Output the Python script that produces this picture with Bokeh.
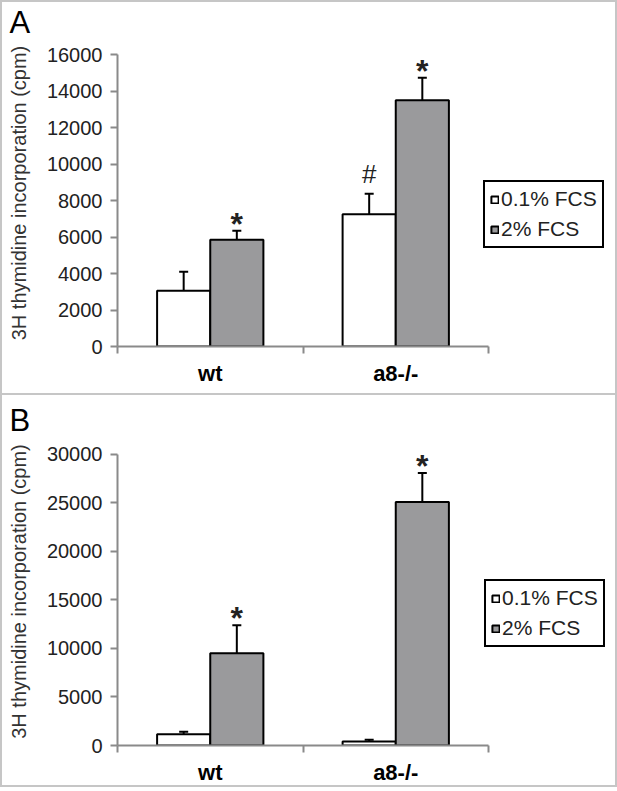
import numpy as np
from bokeh.plotting import figure
from bokeh.models import (ColumnDataSource, Range1d, FixedTicker, LinearAxis,
                          Whisker, TeeHead, Legend, LegendItem)
from bokeh.layouts import column
from bokeh.embed import file_html
from bokeh.resources import INLINE
from bokeh.core.properties import value

# ---------------- data ----------------
categories = ["wt", "a8-/-"]
series_names = ["0.1% FCS", "2% FCS"]

a_low = [3050, 7250]
a_low_err = [1040, 1120]
a_high = [5850, 13500]
a_high_err = [490, 1220]
a_low_marks = ["", "#"]
a_high_marks = ["*", "*"]
a_yticks = [0, 2000, 4000, 6000, 8000, 10000, 12000, 14000, 16000]

b_low = [1150, 400]
b_low_err = [280, 180]
b_high = [9500, 25100]
b_high_err = [2900, 3000]
b_low_marks = ["", ""]
b_high_marks = ["*", "*"]
b_yticks = [0, 5000, 10000, 15000, 20000, 25000, 30000]

# ---------------- style ----------------
FONT = "Liberation Sans"
BORDER = 2
W = 617 - 2 * BORDER
LEFT = 115
CAT_PX = 185.5
AXIS_PX = 292
BAR_W = 0.2865
AXIS_COLOR = "#8a8a8a"
FRAME_COLOR = "#c6c6c6"
GRAY = "#9a9a9c"


def make_panel(letter, low, low_err, high, high_err, low_marks, high_marks,
               yticks, height, border_top, border_bottom, legend_loc):
    frame_w = W - LEFT
    frame_h = height - border_top - border_bottom
    ymax = yticks[-1]
    p = figure(width=W, height=height,
               x_range=Range1d(0, frame_w / CAT_PX),
               y_range=Range1d(0, ymax * frame_h / AXIS_PX),
               output_backend="svg", toolbar_location=None,
               min_border_left=LEFT, min_border_right=0,
               min_border_top=border_top, min_border_bottom=border_bottom,
               x_axis_type=None, y_axis_type=None)
    p.outline_line_color = None
    p.background_fill_color = "white"
    p.border_fill_color = "white"

    p.title.text = letter
    p.title.text_font = FONT
    p.title.text_font_size = "31px"
    p.title.text_font_style = "normal"
    p.title.text_color = "black"
    p.title.align = "left"
    p.title.offset = -(LEFT - 7)
    p.title.standoff = 0

    idx = np.arange(len(categories)) + 0.5
    renderers = []
    mark_x, mark_y, mark_t = [], [], []
    for vals, errs, marks, fill, off in ((low, low_err, low_marks, "white", -BAR_W / 2),
                                          (high, high_err, high_marks, GRAY, BAR_W / 2)):
        vals = np.array(vals, dtype=float)
        errs = np.array(errs, dtype=float)
        src = ColumnDataSource(dict(x=idx + off, top=vals, upper=vals + errs))
        r = p.vbar(x="x", top="top", bottom=0, width=BAR_W, source=src,
                   fill_color=fill, line_color="black", line_width=2)
        renderers.append(r)
        wh = Whisker(base="x", lower="top", upper="upper", source=src,
                     line_color="black", line_width=2,
                     upper_head=TeeHead(size=9, line_color="black", line_width=2),
                     lower_head=None)
        p.add_layout(wh)
        for xx, yy, m in zip(idx + off, vals + errs, marks):
            if m:
                mark_x.append(xx)
                mark_y.append(yy)
                mark_t.append(m)

    def pick(sym):
        sel = [i for i, t in enumerate(mark_t) if t == sym]
        return dict(x=[mark_x[i] for i in sel], y=[mark_y[i] for i in sel],
                    t=[sym] * len(sel))

    p.text(x="x", y="y", text="t", source=ColumnDataSource(pick("*")),
           text_font=value(FONT), text_font_size="32px", text_font_style="bold",
           text_align="center", text_baseline="middle", y_offset=-7,
           text_color="#222222")
    hashes = pick("#")
    if hashes["x"]:
        p.text(x="x", y="y", text="t", source=ColumnDataSource(hashes),
               text_font=value(FONT), text_font_size="26px",
               text_align="center", text_baseline="middle", y_offset=-20,
               text_color="#222222")

    # y axis
    yax = LinearAxis(ticker=FixedTicker(ticks=yticks), bounds=(0, ymax),
                     axis_label="3H thymidine incorporation (cpm)")
    yax.major_tick_out = 7
    yax.major_tick_in = 0
    yax.minor_tick_out = 0
    yax.minor_tick_in = 0
    yax.axis_line_color = AXIS_COLOR
    yax.axis_line_width = 2
    yax.major_tick_line_color = AXIS_COLOR
    yax.major_tick_line_width = 2
    yax.major_label_text_font = FONT
    yax.major_label_text_font_size = "20px"
    yax.major_label_text_color = "#222222"
    yax.major_label_standoff = 8
    yax.axis_label_text_font = FONT
    yax.axis_label_text_font_size = "20px"
    yax.axis_label_text_font_style = "normal"
    yax.axis_label_text_color = "#333333"
    yax.axis_label_standoff = 14
    p.add_layout(yax, "left")

    # x axis: labels at category centres, tick marks at category boundaries
    xax = LinearAxis(ticker=FixedTicker(ticks=list(idx),
                                        minor_ticks=list(range(len(categories) + 1))),
                     bounds=(0, len(categories)))
    xax.major_label_overrides = {float(v): c for v, c in zip(idx, categories)}
    xax.major_tick_out = 0
    xax.major_tick_in = 0
    xax.minor_tick_out = 7
    xax.minor_tick_in = 0
    xax.axis_line_color = AXIS_COLOR
    xax.axis_line_width = 2
    xax.minor_tick_line_color = AXIS_COLOR
    xax.minor_tick_line_width = 2
    xax.major_label_text_font = FONT
    xax.major_label_text_font_size = "22px"
    xax.major_label_text_font_style = "bold"
    xax.major_label_text_color = "black"
    xax.major_label_standoff = 7
    p.add_layout(xax, "below")

    legend = Legend(items=[LegendItem(label=n, renderers=[r])
                           for n, r in zip(series_names, renderers)],
                    location=legend_loc)
    legend.border_line_color = "black"
    legend.border_line_alpha = 1.0
    legend.border_line_width = 2
    legend.background_fill_color = "white"
    legend.background_fill_alpha = 1.0
    legend.label_text_font = FONT
    legend.label_text_font_size = "21px"
    legend.label_text_color = "#222222"
    legend.glyph_height = 9
    legend.glyph_width = 9
    legend.label_standoff = 2
    legend.padding = 5
    legend.spacing = 6
    legend.margin = 0
    legend.label_height = 22
    p.add_layout(legend)
    return p


pA = make_panel("A", a_low, a_low_err, a_high, a_high_err, a_low_marks, a_high_marks,
                a_yticks, 391, 37, 47, (366, 98))
pB = make_panel("B", b_low, b_low_err, b_high, b_high_err, b_low_marks, b_high_marks,
                b_yticks, 392, 42, 41, (367, 98))
pB.styles = {"border-top": f"{BORDER}px solid {FRAME_COLOR}"}

layout = column(pA, pB, styles={"border": f"{BORDER}px solid {FRAME_COLOR}"})
open("out.html", "w").write(file_html(layout, INLINE))
